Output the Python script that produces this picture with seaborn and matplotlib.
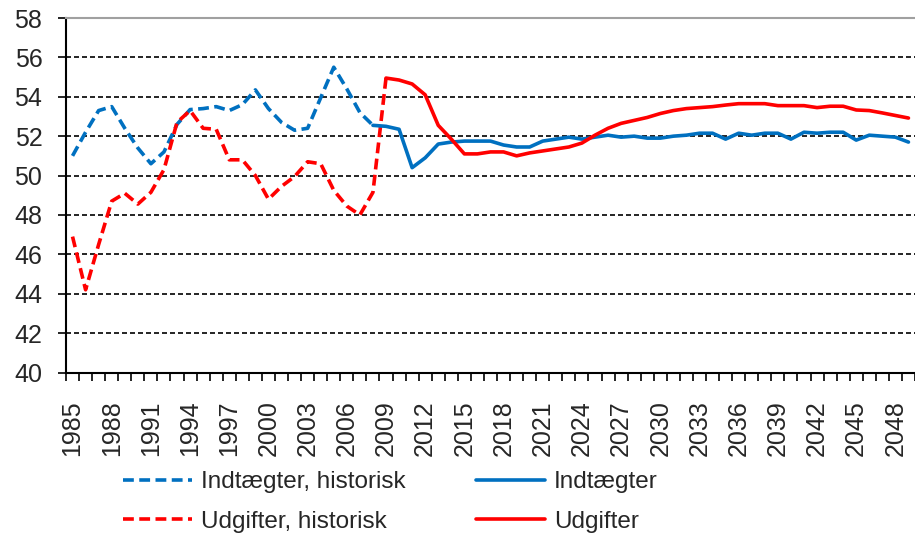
import numpy as np
import pandas as pd
import seaborn as sns
import matplotlib.pyplot as plt
from matplotlib.ticker import MultipleLocator, FixedLocator

sns.set_style('white')
plt.rcParams['font.family'] = ['Liberation Sans', 'DejaVu Sans']

# data (pct. of GDP)
years_hist_ind = list(range(1985, 2009))
ind_hist = [51.0, 52.2, 53.3, 53.5, 52.4, 51.4, 50.6, 51.2, 52.6, 53.35,
            53.4, 53.5, 53.3, 53.6, 54.35, 53.4, 52.7, 52.3, 52.4, 53.95,
            55.5, 54.4, 53.2, 52.55]

years_ind = list(range(2008, 2050))
ind = [52.55, 52.5, 52.35, 50.4, 50.9, 51.6, 51.7, 51.75, 51.75, 51.75,
       51.55, 51.45, 51.45, 51.75, 51.85, 51.95, 51.85, 51.95, 52.05, 51.95,
       52.0, 51.9, 51.9, 52.0, 52.05, 52.15, 52.15, 51.85, 52.15, 52.05,
       52.15, 52.15, 51.85, 52.2, 52.15, 52.2, 52.2, 51.8, 52.05, 52.0,
       51.95, 51.7]

years_hist_udg = list(range(1985, 2010))
udg_hist = [46.9, 44.2, 46.5, 48.7, 49.1, 48.55, 49.15, 50.3, 52.7, 53.3,
            52.4, 52.35, 50.8, 50.8, 50.0, 48.8, 49.45, 49.95, 50.7, 50.6,
            49.25, 48.45, 48.0, 49.15, 54.95]

years_udg = list(range(2009, 2050))
udg = [54.95, 54.85, 54.65, 54.1, 52.55, 51.85, 51.1, 51.1, 51.2, 51.2,
       51.0, 51.15, 51.25, 51.35, 51.45, 51.65, 52.05, 52.4, 52.65, 52.8,
       52.95, 53.15, 53.3, 53.4, 53.45, 53.5, 53.58, 53.65, 53.65, 53.65,
       53.55, 53.55, 53.55, 53.45, 53.52, 53.52, 53.33, 53.3, 53.18, 53.05,
       52.92]

label_years = list(range(1985, 2049, 3))

blue = '#0070C0'
red = '#FF0000'
dash = (0, (3, 1.5))

fig = plt.figure(figsize=(9.15, 5.36), dpi=100)
ax = fig.add_axes([66 / 915, 1 - 372.5 / 536, 1 - 66 / 915, (372.5 - 18) / 536])

sns.lineplot(x=years_hist_ind, y=ind_hist, ax=ax, color=blue, lw=2.6,
             linestyle=dash, label='Indtægter, historisk')
sns.lineplot(x=years_hist_udg, y=udg_hist, ax=ax, color=red, lw=2.6,
             linestyle=dash, label='Udgifter, historisk')
sns.lineplot(x=years_ind, y=ind, ax=ax, color=blue, lw=2.6, label='Indtægter')
sns.lineplot(x=years_udg, y=udg, ax=ax, color=red, lw=2.6, label='Udgifter')

ax.set_xlim(1984.5, 2049.5)
ax.set_ylim(40, 58)
ax.yaxis.set_major_locator(MultipleLocator(2))
ax.xaxis.set_major_locator(FixedLocator(label_years))
ax.xaxis.set_minor_locator(FixedLocator(np.arange(1984.5, 2050, 1)))
ax.set_xlabel('')
ax.set_ylabel('')

ax.grid(axis='y', color='black', lw=1.2, linestyle=(0, (3, 1.8)))
ax.grid(axis='x', visible=False)
ax.set_axisbelow(True)

for s in ['left', 'bottom']:
    ax.spines[s].set_color('black')
    ax.spines[s].set_linewidth(1.5)
ax.spines['top'].set_color('#A0A0A0')
ax.spines['top'].set_linewidth(1.5)
ax.spines['right'].set_visible(False)

ax.tick_params(axis='y', which='major', length=6, width=1.2, color='black',
               direction='out', pad=11, labelsize=18, left=True)
ax.tick_params(axis='x', which='major', length=0, pad=20, labelsize=18,
               labelrotation=90, bottom=True)
ax.tick_params(axis='x', which='minor', length=6, width=1.2, color='black',
               direction='out', bottom=True)

handles, labels = ax.get_legend_handles_labels()
ax.get_legend().remove()
fig.legend(handles, labels, ncol=2, loc='upper left',
           bbox_to_anchor=(123 / 915, 1 - 471 / 536), frameon=False,
           fontsize=17.5, handlelength=2.85, handletextpad=0.35,
           columnspacing=2.9, labelspacing=0.72, borderpad=0, borderaxespad=0)

fig.savefig('out.png', dpi=100)
